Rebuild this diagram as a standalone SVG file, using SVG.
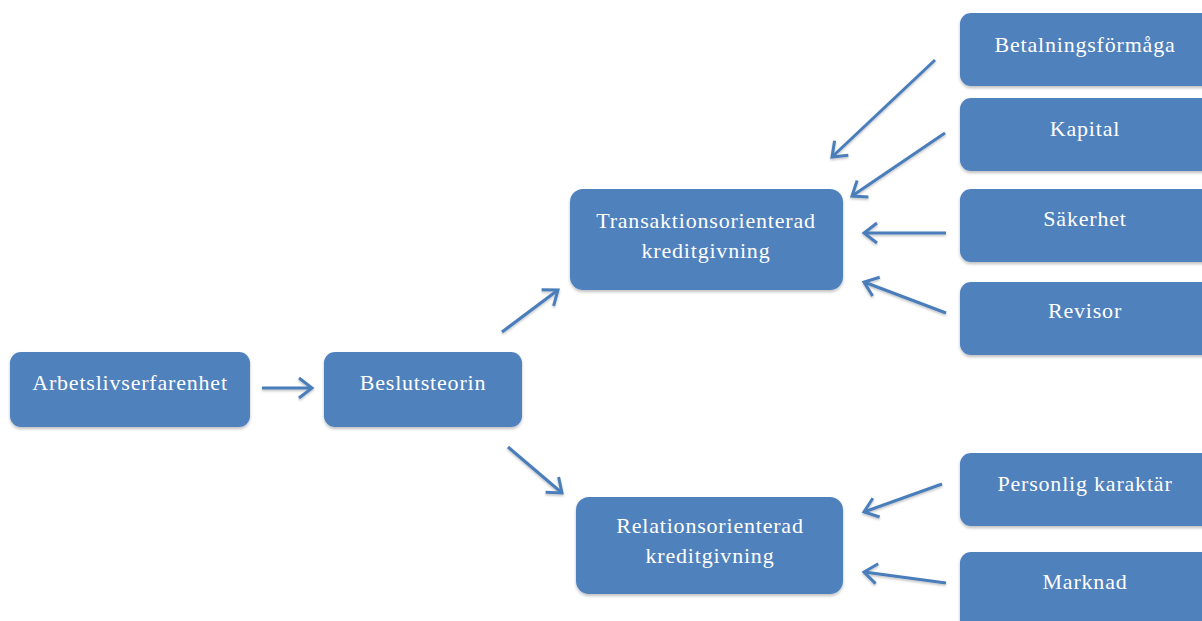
<svg xmlns="http://www.w3.org/2000/svg" width="1202" height="621" viewBox="0 0 1202 621">
<style>
.box{fill:#4f81bd;filter:url(#sh)}
.t{font-family:"Liberation Serif","Times New Roman",serif;font-size:22px;fill:#ffffff;text-anchor:middle;letter-spacing:0.8px}
.c{stroke:#4a7ebb;stroke-width:3;fill:none;marker-end:url(#ah);filter:url(#sh2)}
</style>
<defs>
<filter id="sh" x="-10%" y="-10%" width="120%" height="130%"><feDropShadow dx="0" dy="2" stdDeviation="1.5" flood-color="#000" flood-opacity="0.25"/></filter>
<filter id="sh2" filterUnits="userSpaceOnUse" x="0" y="0" width="1202" height="621"><feDropShadow dx="0" dy="1.5" stdDeviation="1" flood-color="#000" flood-opacity="0.25"/></filter>
<marker id="ah" markerUnits="userSpaceOnUse" markerWidth="20" markerHeight="24" viewBox="0 0 20 24" refX="15" refY="12" orient="auto"><path d="M2,2 L15,12 L2,22" fill="none" stroke="#4a7ebb" stroke-width="3"/></marker>
</defs>
<g id="n-arbets"><rect class="box" x="10" y="352" width="240" height="75" rx="11"/><text class="t" x="130" y="390">Arbetslivserfarenhet</text></g>
<g id="n-beslut"><rect class="box" x="324" y="352" width="198" height="75" rx="11"/><text class="t" x="423" y="390">Beslutsteorin</text></g>
<g id="n-trans"><rect class="box" x="570" y="189" width="273" height="101" rx="13"/><text class="t" x="706" y="228">Transaktionsorienterad</text><text class="t" x="706" y="258">kreditgivning</text></g>
<g id="n-rel"><rect class="box" x="576" y="497" width="267" height="97" rx="13"/><text class="t" x="710" y="533">Relationsorienterad</text><text class="t" x="710" y="563">kreditgivning</text></g>
<g id="n-betal"><rect class="box" x="960" y="13" width="255" height="73" rx="11"/><text class="t" x="1085" y="52">Betalningsförmåga</text></g>
<g id="n-kapital"><rect class="box" x="960" y="98" width="255" height="73" rx="11"/><text class="t" x="1085" y="136">Kapital</text></g>
<g id="n-saker"><rect class="box" x="960" y="189" width="255" height="73" rx="11"/><text class="t" x="1085" y="226">Säkerhet</text></g>
<g id="n-revisor"><rect class="box" x="960" y="282" width="255" height="73" rx="11"/><text class="t" x="1085" y="318">Revisor</text></g>
<g id="n-person"><rect class="box" x="960" y="453" width="255" height="73" rx="11"/><text class="t" x="1085" y="491">Personlig karaktär</text></g>
<g id="n-marknad"><rect class="box" x="960" y="552" width="255" height="80" rx="11"/><text class="t" x="1085" y="589">Marknad</text></g>
<g id="connectors">
<line class="c" x1="262" y1="388" x2="312" y2="388"/>
<line class="c" x1="502" y1="332" x2="558" y2="290"/>
<line class="c" x1="508" y1="447" x2="562" y2="493"/>
<line class="c" x1="935" y1="60" x2="832" y2="157"/>
<line class="c" x1="945" y1="133" x2="852" y2="196"/>
<line class="c" x1="946" y1="233" x2="864" y2="233"/>
<line class="c" x1="946" y1="313" x2="864" y2="282"/>
<line class="c" x1="942" y1="484" x2="864" y2="512"/>
<line class="c" x1="946" y1="583" x2="864" y2="572"/>
</g>
</svg>
